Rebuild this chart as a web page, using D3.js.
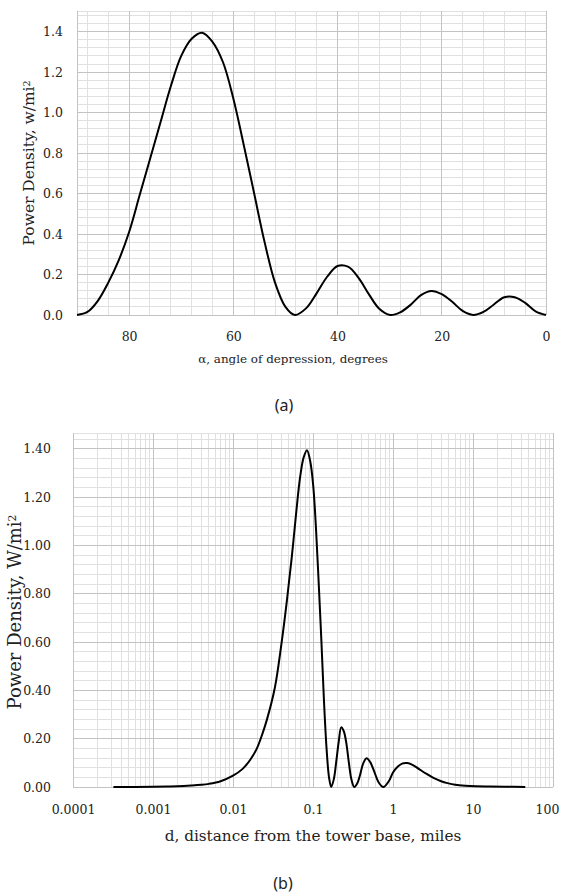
<!DOCTYPE html>
<html>
<head>
<meta charset="utf-8">
<script src="https://cdn.jsdelivr.net/npm/d3@7"></script>
<style>
  html, body { margin: 0; padding: 0; background: #fff; }
  svg { display: block; }
  text { font-family: "DejaVu Serif", serif; fill: #222; }
</style>
</head>
<body>
<svg id="chart" width="569" height="895"></svg>
<script>
// ---------- Data ----------
// (a) power density vs angle of depression
const alphaDeg = [90, 88, 86, 84, 82, 80, 78, 76, 74, 72, 70, 68, 66, 64, 62, 60, 58, 56, 54, 52, 50, 48.2,
                  46, 44, 42, 40, 38, 36, 34, 32, 29.9, 28, 26, 24, 22, 20, 18, 16, 14, 12, 10, 8, 6, 4, 2, 0];
const powerA   = [0, 0.015, 0.07, 0.16, 0.27, 0.41, 0.59, 0.77, 0.95, 1.13, 1.28, 1.365, 1.395, 1.35, 1.25, 1.07, 0.84, 0.60, 0.36, 0.16, 0.04, 0,
                  0.034, 0.108, 0.189, 0.242, 0.239, 0.185, 0.103, 0.031, 0, 0.013, 0.05, 0.098, 0.119, 0.103, 0.065, 0.02, 0, 0.015, 0.052, 0.088, 0.088, 0.06, 0.018, 0];

// (b) power density vs distance from tower base (miles)
const distMiles = [0.00032, 0.0006, 0.001, 0.0015, 0.002, 0.003, 0.004, 0.005, 0.007, 0.01, 0.0132, 0.0166, 0.0199, 0.0233, 0.0266,
                   0.0333, 0.0402, 0.0471, 0.0542, 0.0614, 0.0688, 0.0764, 0.0841, 0.0922, 0.1005, 0.109, 0.118, 0.1275, 0.137,
                   0.1477, 0.1586, 0.169, 0.1825, 0.1957, 0.2099, 0.2252, 0.2419, 0.2601, 0.2802, 0.3025, 0.3281, 0.3555, 0.3875,
                   0.4245, 0.4678, 0.5193, 0.5817, 0.6591, 0.758, 0.889, 1.0, 1.15, 1.3, 1.5, 1.75, 2.1, 2.6, 3.2, 4.0, 4.8, 6.0,
                   8.0, 11, 16, 25, 45];
const powerB    = [0, 0.0005, 0.001, 0.002, 0.003, 0.006, 0.009, 0.013, 0.024, 0.047, 0.075, 0.115, 0.16, 0.22, 0.28,
                   0.41, 0.59, 0.77, 0.95, 1.13, 1.28, 1.365, 1.395, 1.35, 1.25, 1.07, 0.84, 0.60, 0.36,
                   0.16, 0.04, 0, 0.034, 0.108, 0.189, 0.247, 0.232, 0.185, 0.103, 0.031, 0, 0.013, 0.05,
                   0.098, 0.119, 0.103, 0.065, 0.02, 0, 0.025, 0.06, 0.085, 0.097, 0.099, 0.092, 0.075, 0.055, 0.038, 0.024, 0.016, 0.009,
                   0.005, 0.003, 0.002, 0.001, 0];

// Tick labels
const xTicksA = [80, 60, 40, 20, 0];
const yTicksA = [0, 0.2, 0.4, 0.6, 0.8, 1.0, 1.2, 1.4];
const xTicksB = [0.0001, 0.001, 0.01, 0.1, 1, 10, 100];
const xLabelsB = ["0.0001", "0.001", "0.01", "0.1", "1", "10", "100"];
const yTicksB = [0, 0.2, 0.4, 0.6, 0.8, 1.0, 1.2, 1.4];

// ---------- Drawing ----------
const svg = d3.select("#chart");
svg.append("rect").attr("width", 569).attr("height", 895).attr("fill", "#fff");

const majorCol = "#c3c3c3", minorCol = "#e0e0e0";
const tickFont = 12.5;

function gridLines(g, vals, fn, col) {
  g.selectAll(null).data(vals).enter().append("line")
    .each(function(d) { const c = fn(d); d3.select(this).attr("x1", c[0]).attr("y1", c[1]).attr("x2", c[2]).attr("y2", c[3]); })
    .attr("stroke", col).attr("stroke-width", 1).attr("shape-rendering", "crispEdges");
}
function fitText(sel, target) {
  const len = sel.node().getComputedTextLength();
  const fs = parseFloat(sel.style("font-size"));
  if (len > 0) sel.style("font-size", (fs * target / len) + "px");
}
function yTitle(g, x, y, label, target) {
  const t = g.append("text").attr("transform", `translate(${x},${y}) rotate(-90)`).attr("text-anchor", "middle")
    .style("font-size", "14px");
  t.append("tspan").text(label);
  t.append("tspan").attr("dy", "-0.45em").style("font-size", "0.6em").text("2");
  fitText(t, target);
}
function clip(id, x0, y1, w, h) {
  svg.append("clipPath").attr("id", id).append("rect").attr("x", x0).attr("y", y1).attr("width", w).attr("height", h);
}

// ===== Chart (a) =====
{
  const x = d3.scaleLinear().domain([90, 0]).range([77, 546]);
  const y = d3.scaleLinear().domain([0, 1.5]).range([315, 11.4]);
  const g = svg.append("g");
  const [x0, x1] = x.range(), [y0, y1] = y.range();

  const minorV = d3.range(0, 90, 4).filter(v => v % 20 !== 0);
  const minorH = d3.range(0.04, 1.5, 0.04).filter(v => Math.abs(v / 0.2 - Math.round(v / 0.2)) > 1e-6);
  gridLines(g, minorV, v => [x(v), y0, x(v), y1], minorCol);
  gridLines(g, minorH.concat([1.5]), v => [x0, y(v), x1, y(v)], minorCol);
  gridLines(g, xTicksA, v => [x(v), y0, x(v), y1], majorCol);
  gridLines(g, yTicksA, v => [x0, y(v), x1, y(v)], majorCol);
  gridLines(g, [90], v => [x(v), y0, x(v), y1], majorCol);

  const xAxis = d3.axisBottom(x).tickValues(xTicksA).tickSize(0).tickPadding(17).tickFormat(d3.format("d"));
  const ax = g.append("g").attr("transform", `translate(0,${y0})`).call(xAxis);
  ax.select(".domain").remove();
  ax.selectAll("text").style("font-family", "DejaVu Serif").style("font-size", tickFont + "px").attr("fill", "#222");

  const yAxis = d3.axisLeft(y).tickValues(yTicksA).tickSize(0).tickPadding(14).tickFormat(d3.format(".1f"));
  const ay = g.append("g").attr("transform", `translate(${x0},0)`).call(yAxis);
  ay.select(".domain").remove();
  ay.selectAll("text").style("font-family", "DejaVu Serif").style("font-size", tickFont + "px").attr("fill", "#222");

  clip("clipA", x0 - 2, y1, x1 - x0 + 4, y0 - y1 + 2);
  const line = d3.line().x((d, i) => x(alphaDeg[i])).y(d => y(d)).curve(d3.curveCatmullRom.alpha(0.5));
  g.append("path").datum(powerA).attr("d", line).attr("clip-path", "url(#clipA)")
    .attr("fill", "none").attr("stroke", "#000").attr("stroke-width", 2);

  const xt = g.append("text").attr("x", 293).attr("y", 363).attr("text-anchor", "middle")
    .style("font-size", "12px").text("α, angle of depression, degrees");
  fitText(xt, 190);
  yTitle(g, 34, 163, "Power Density, w/mi", 165);

  svg.append("text").attr("x", 284).attr("y", 411).attr("text-anchor", "middle")
    .style("font-family", "Noto Sans").style("font-size", "16px").text("(a)");
}

// ===== Chart (b) =====
{
  const x = d3.scaleLog().domain([0.0001, 100]).range([73, 553]);
  const y = d3.scaleLinear().domain([0, 1.466]).range([787, 433]);
  const g = svg.append("g");
  const [x0, x1] = x.range(), [y0, y1] = y.range();

  const minorV = [];
  for (let k = -4; k <= 1; k++) for (let m = 2; m <= 9; m++) minorV.push(m * Math.pow(10, k));
  const minorH = d3.range(0.04, 1.46, 0.04).filter(v => Math.abs(v / 0.2 - Math.round(v / 0.2)) > 1e-6);
  gridLines(g, minorV, v => [x(v), y0, x(v), y1], minorCol);
  gridLines(g, minorH, v => [x0, y(v), x1, y(v)], minorCol);
  gridLines(g, [1.466], v => [x0, y(v), x1, y(v)], minorCol);
  gridLines(g, xTicksB, v => [x(v), y0, x(v), y1], majorCol);
  gridLines(g, yTicksB, v => [x0, y(v), x1, y(v)], majorCol);

  const xAxis = d3.axisBottom(x).tickValues(xTicksB).tickSize(0).tickPadding(18)
    .tickFormat((d, i) => xLabelsB[i]);
  const ax = g.append("g").attr("transform", `translate(0,${y0})`).call(xAxis);
  ax.select(".domain").remove();
  ax.selectAll("text").style("font-family", "DejaVu Serif").style("font-size", tickFont + "px").attr("fill", "#222")
    .attr("dx", (d, i) => i === xTicksB.length - 1 ? -6 : 0);

  const yAxis = d3.axisLeft(y).tickValues(yTicksB).tickSize(0).tickPadding(22).tickFormat(d3.format(".2f"));
  const ay = g.append("g").attr("transform", `translate(${x0},0)`).call(yAxis);
  ay.select(".domain").remove();
  ay.selectAll("text").style("font-family", "DejaVu Serif").style("font-size", tickFont + "px").attr("fill", "#222");

  clip("clipB", x0, y1, x1 - x0, y0 - y1 + 2);
  const line = d3.line().x((d, i) => x(distMiles[i])).y(d => y(d)).curve(d3.curveCatmullRom.alpha(0.5));
  g.append("path").datum(powerB).attr("d", line).attr("clip-path", "url(#clipB)")
    .attr("fill", "none").attr("stroke", "#000").attr("stroke-width", 2);

  const xt = g.append("text").attr("x", 313).attr("y", 841).attr("text-anchor", "middle")
    .style("font-size", "15px").text("d, distance from the tower base, miles");
  fitText(xt, 297);
  yTitle(g, 21, 612, "Power Density, W/mi", 195);

  svg.append("text").attr("x", 283).attr("y", 889).attr("text-anchor", "middle")
    .style("font-family", "Noto Sans").style("font-size", "16px").text("(b)");
}
</script>
</body>
</html>
